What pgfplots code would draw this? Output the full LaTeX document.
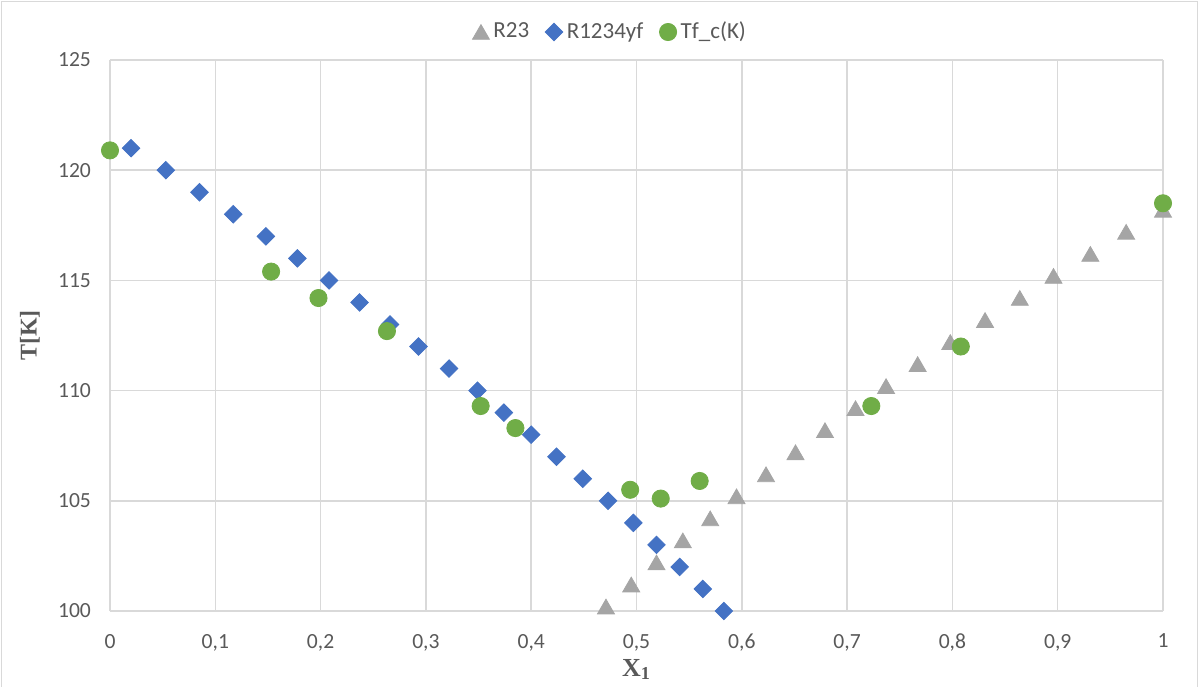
\documentclass[border=0pt]{standalone}
\usepackage{fontspec}
\setmainfont{Carlito}
\newfontfamily\lserif{Liberation Serif}
\usepackage{pgfplots}
\pgfplotsset{compat=1.18}
\definecolor{rgray}{HTML}{A5A5A5}
\definecolor{rblue}{HTML}{4472C4}
\definecolor{rgreen}{HTML}{70AD47}
\definecolor{gridc}{HTML}{D9D9D9}
\definecolor{tickc}{HTML}{595959}

\begin{document}
\begin{tikzpicture}
\useasboundingbox (-55pt,-37.5pt) rectangle (544.5pt,305.5pt);
\draw[gridc, line width=0.75pt] (-54.3pt,-80pt) rectangle (543.8pt,304.8pt);
\begin{axis}[at={(0,0)}, anchor=south west,
  width=526.5pt, height=275.5pt, scale only axis,
  xmin=0, xmax=1, ymin=100, ymax=125,
  xtick={0,0.1,0.2,0.3,0.4,0.5,0.6,0.7,0.8,0.9,1},
  ytick={100,105,110,115,120,125},
  grid=major, grid style={gridc, line width=0.75pt},
  axis line style={draw=none}, tick style={draw=none},
  ticklabel style={font=\fontsize{10.8}{12}\selectfont, text=tickc},
  /pgf/number format/assume math mode=true, /pgf/number format/use comma,
  xticklabel style={yshift=-8pt},
  yticklabel style={xshift=-6pt},
  xlabel={\lserif\bfseries X\textsubscript{1}},
  xlabel style={at={(axis description cs:0.5,0)}, anchor=north, yshift=-20.5pt,
    font=\fontsize{13}{14}\selectfont, text=tickc},
  ylabel={\lserif\bfseries T[K]},
  ylabel style={at={(axis description cs:-0.076,0.5)}, anchor=center,
    font=\fontsize{12}{13}\selectfont, text=tickc},
  clip=false,
  legend columns=3,
  legend style={at={(axis description cs:0.476,1.0508)}, anchor=center,
    draw=none, fill=none, font=\fontsize{11.5}{12}\selectfont, text=tickc,
    /tikz/every even column/.append style={column sep=6pt}},
]
\addplot[only marks, mark=triangle*, mark size=4.9pt, mark options={yshift=-1.2pt}, color=rgray] coordinates {
(0.471,100.2) (0.495,101.2) (0.519,102.2) (0.544,103.2) (0.570,104.2)
(0.595,105.2) (0.623,106.2) (0.651,107.2) (0.679,108.2) (0.708,109.2)
(0.737,110.2) (0.767,111.2) (0.798,112.2) (0.831,113.2) (0.864,114.2)
(0.896,115.2) (0.931,116.2) (0.965,117.2) (1.0,118.2)};
\addplot[only marks, mark=square*, mark size=3.1pt, mark options={rotate=45}, color=rblue] coordinates {
(0.020,121) (0.053,120) (0.085,119) (0.117,118) (0.148,117)
(0.178,116) (0.208,115) (0.237,114) (0.266,113) (0.293,112)
(0.322,111) (0.349,110) (0.374,109) (0.400,108) (0.424,107)
(0.449,106) (0.473,105) (0.497,104) (0.519,103) (0.541,102)
(0.563,101) (0.583,100)};
\addplot[only marks, mark=*, mark size=4.3pt, color=rgreen] coordinates {
(0,120.9) (0.153,115.4) (0.198,114.2) (0.263,112.7) (0.352,109.3)
(0.385,108.3) (0.494,105.5) (0.523,105.1) (0.560,105.9) (0.723,109.3)
(0.808,112.0) (1.0,118.5)};
\legend{R23, R1234yf, Tf\_c(K)}
\end{axis}
\end{tikzpicture}
\end{document}
